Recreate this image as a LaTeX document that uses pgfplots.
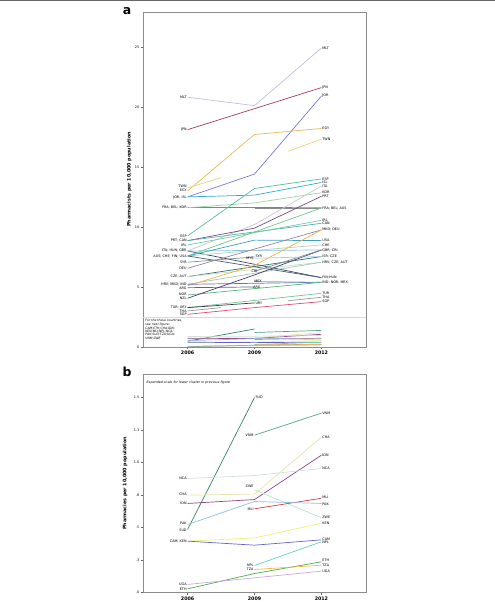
\documentclass[border=0pt]{standalone}
\usepackage{pgfplots}
\pgfplotsset{compat=1.18}
\usepackage{fontspec}
\setmainfont{DejaVu Sans}
\newcommand\lf{\fontsize{3.4}{4}\selectfont}
\definecolor{cMLT}{RGB}{200,190,215}
\definecolor{cJPN}{RGB}{165,60,90}
\definecolor{cJOR}{RGB}{120,120,220}
\definecolor{cEGY}{RGB}{230,185,90}
\definecolor{cTWN}{RGB}{235,210,120}
\definecolor{cISL}{RGB}{50,170,210}
\definecolor{cFRA}{RGB}{90,160,90}
\definecolor{cBEL}{RGB}{140,140,140}
\definecolor{cKOR}{RGB}{150,210,170}
\definecolor{cESP}{RGB}{80,190,160}
\definecolor{cITA}{RGB}{200,200,200}
\definecolor{cPRT}{RGB}{110,80,130}
\definecolor{cCAN}{RGB}{80,180,170}
\definecolor{cIRL}{RGB}{120,200,170}
\definecolor{cHUN}{RGB}{60,70,90}
\definecolor{cGBR}{RGB}{140,190,220}
\definecolor{cAUS}{RGB}{110,200,140}
\definecolor{cCHE}{RGB}{170,210,190}
\definecolor{cFIN}{RGB}{70,90,120}
\definecolor{cUSA}{RGB}{60,160,190}
\definecolor{cSYR}{RGB}{120,150,130}
\definecolor{cDEU}{RGB}{150,130,170}
\definecolor{cCZE}{RGB}{50,110,110}
\definecolor{cAUT}{RGB}{190,220,200}
\definecolor{cHRV}{RGB}{160,200,180}
\definecolor{cMKD}{RGB}{240,180,60}
\definecolor{cIND}{RGB}{110,110,190}
\definecolor{cARG}{RGB}{90,100,150}
\definecolor{cNOR}{RGB}{90,180,120}
\definecolor{cNZL}{RGB}{80,60,110}
\definecolor{cMEX}{RGB}{100,190,160}
\definecolor{cCRI}{RGB}{120,140,150}
\definecolor{cMYS}{RGB}{170,200,220}
\definecolor{cTUR}{RGB}{110,200,150}
\definecolor{cURY}{RGB}{60,60,70}
\definecolor{cTHA}{RGB}{150,150,150}
\definecolor{cSGP}{RGB}{220,80,110}
% lower cluster
\definecolor{bSUD}{RGB}{50,130,105}
\definecolor{bVNM}{RGB}{80,165,140}
\definecolor{bCHA}{RGB}{232,228,170}
\definecolor{bIDN}{RGB}{140,70,140}
\definecolor{bNCA}{RGB}{210,225,215}
\definecolor{bZWE}{RGB}{180,230,200}
\definecolor{bMLI}{RGB}{220,60,60}
\definecolor{bPAK}{RGB}{150,190,225}
\definecolor{bKEN}{RGB}{240,240,120}
\definecolor{bCAM}{RGB}{100,100,200}
\definecolor{bNPL}{RGB}{100,210,190}
\definecolor{bETH}{RGB}{80,170,80}
\definecolor{bTZA}{RGB}{240,180,80}
\definecolor{bUGA}{RGB}{200,170,225}
\newcommand\lowercluster{%
\addplot[bSUD] coordinates {(2006,0.485) (2009,1.5)};
\addplot[bVNM] coordinates {(2009,1.21) (2012,1.38)};
\addplot[bCHA] coordinates {(2006,0.749) (2009,0.757) (2012,1.195)};
\addplot[bIDN] coordinates {(2006,0.685) (2009,0.715) (2012,1.056)};
\addplot[bNCA] coordinates {(2006,0.877) (2009,0.90) (2012,0.954)};
\addplot[bZWE] coordinates {(2009,0.79) (2012,0.575)};
\addplot[bMLI] coordinates {(2009,0.644) (2012,0.725)};
\addplot[bPAK] coordinates {(2006,0.523) (2009,0.70) (2012,0.685)};
\addplot[bKEN] coordinates {(2006,0.395) (2009,0.42) (2012,0.533)};
\addplot[bCAM] coordinates {(2006,0.395) (2009,0.364) (2012,0.405)};
\addplot[bNPL] coordinates {(2009,0.208) (2012,0.39)};
\addplot[bETH] coordinates {(2006,0.028) (2009,0.146) (2012,0.236)};
\addplot[bTZA] coordinates {(2009,0.177) (2012,0.21)};
\addplot[bUGA] coordinates {(2006,0.062) (2012,0.164)};
}
\newcommand\La[3]{\node[anchor=east,inner sep=0.8bp,font=\lf] at (axis cs:#1,#2) {#3};}
\newcommand\Ra[3]{\node[anchor=west,inner sep=0.8bp,font=\lf] at (axis cs:#1,#2) {#3};}
\newcommand\Ca[3]{\node[anchor=center,inner sep=0.8bp,font=\lf] at (axis cs:#1,#2) {#3};}
\pgfplotsset{panel/.style={
  scale only axis, width=223bp, xmin=2004, xmax=2014,
  xtick={2006,2009,2012}, xticklabels={2006,2009,2012},
  axis line style={black!45, line width=0.5bp},
  tick style={black!60, line width=0.4bp}, major tick length=2.5bp,
  tick align=outside, xtick pos=bottom, ytick pos=left,
  yticklabel style={font=\lf, inner sep=1bp},
  xticklabel style={font=\fontsize{4.8}{5}\selectfont\bfseries, inner sep=1.5bp},
  /pgf/number format/assume math mode=true,
  ylabel style={font=\fontsize{4.8}{5}\selectfont\bfseries},
  every axis plot/.append style={line width=0.7bp, mark=none},
  clip=false}}
\begin{document}
\begin{tikzpicture}[x=1bp,y=1bp]
\path (0,0) rectangle (495,604);
\fill[black!60] (0,602.8) rectangle (495,604);
\node[font=\fontsize{12.5}{12}\selectfont\bfseries] at (127,593) {a};
\node[font=\fontsize{12.5}{12}\selectfont\bfseries] at (127,232) {b};
% ---------------- panel a
\begin{axis}[panel, at={(143bp,257bp)}, anchor=south west, height=335bp,
  ymin=0, ymax=27.9, ytick={0,5,10,15,20,25},
  ylabel={Pharmacists per 10,000 population},
  ylabel style={at={(axis description cs:-0.061,0.5)}, anchor=center}]
\addplot[black!15, line width=0.5bp] coordinates {(2004,2.45) (2014,2.45)};
\addplot[cMLT] coordinates {(2006,20.8) (2009,20.1) (2012,24.9)};
\addplot[cJPN] coordinates {(2006,18.1) (2012,21.6)};
\addplot[cJOR] coordinates {(2006,12.5) (2009,14.4) (2012,20.9)};
\addplot[cEGY] coordinates {(2006,13.0) (2009,17.7) (2012,18.2)};
\addplot[cTWN] coordinates {(2006,13.25) (2007.5,14.1)};
\addplot[cTWN] coordinates {(2010.5,16.3) (2012,17.3)};
\addplot[cISL] coordinates {(2006,12.5) (2009,12.65) (2012,13.7)};
\addplot[cFRA] coordinates {(2006,11.62) (2009,11.62) (2012,11.6)};
\addplot[cBEL] coordinates {(2009,11.58) (2012,11.58)};
\addplot[cKOR] coordinates {(2006,11.6) (2009,12.0) (2012,12.85)};
\addplot[cESP] coordinates {(2006,9.25) (2009,13.2) (2012,14.0)};
\addplot[cITA] coordinates {(2006,8.0) (2009,10.2) (2012,13.4)};
\addplot[cPRT] coordinates {(2006,8.86) (2009,9.9) (2012,12.55)};
\addplot[cCAN] coordinates {(2006,8.86) (2012,10.3)};
\addplot[cIRL] coordinates {(2006,8.5) (2012,10.55)};
\addplot[cHUN] coordinates {(2006,8.0) (2012,5.78)};
\addplot[cGBR] coordinates {(2006,8.0) (2012,8.08)};
\addplot[cAUS] coordinates {(2006,7.58) (2012,11.58)};
\addplot[cCHE] coordinates {(2006,7.58) (2012,8.5)};
\addplot[cFIN] coordinates {(2006,7.58) (2012,5.78)};
\addplot[cUSA] coordinates {(2006,7.58) (2009,8.9) (2012,8.86)};
\addplot[cSYR] coordinates {(2006,7.06) (2009,7.5)};
\addplot[cDEU] coordinates {(2006,6.56) (2012,9.75)};
\addplot[cCZE] coordinates {(2006,5.86) (2012,7.53)};
\addplot[cAUT] coordinates {(2006,5.86) (2012,7.06)};
\addplot[cHRV] coordinates {(2006,5.22) (2012,7.06)};
\addplot[cMKD] coordinates {(2006,5.1) (2009,6.8) (2012,9.75)};
\addplot[cIND] coordinates {(2006,5.22) (2012,5.39)};
\addplot[cARG] coordinates {(2006,4.94) (2009,5.0)};
\addplot[cNOR] coordinates {(2006,4.33) (2012,5.39)};
\addplot[cNZL] coordinates {(2006,4.06) (2009,6.0) (2012,8.08)};
\addplot[cMEX] coordinates {(2009,5.45) (2012,5.39)};
\addplot[cCRI] coordinates {(2009,6.3) (2012,8.08)};
\addplot[cMYS] coordinates {(2009,7.39) (2012,7.53)};
\addplot[cTUR] coordinates {(2006,3.28) (2012,4.47)};
\addplot[cURY] coordinates {(2006,3.28) (2009,3.67)};
\addplot[cTHA] coordinates {(2006,3.0) (2007.5,3.28)};
\addplot[cTHA] coordinates {(2010.5,3.85) (2012,4.14)};
\addplot[cSGP] coordinates {(2006,2.72) (2009,3.28) (2012,3.78)};
\lowercluster
% labels 2006
\La{2006}{20.8}{MLT}
\La{2006}{18.1}{JPN}
\La{2006}{13.4}{TWN}
\La{2006}{13.05}{EGY}
\La{2006}{12.47}{JOR; ISL}
\La{2006}{11.6}{FRA; BEL; KOR}
\La{2006}{9.25}{ESP}
\La{2006}{8.86}{PRT; CAN}
\La{2006}{8.5}{IRL}
\La{2006}{8.0}{ITA; HUN; GBR}
\La{2006}{7.58}{AUS; CHE; FIN; USA}
\La{2006}{7.06}{SYR}
\La{2006}{6.56}{DEU}
\La{2006}{5.86}{CZE; AUT}
\La{2006}{5.22}{HRV; MKD; IND}
\La{2006}{4.9}{ARG}
\La{2006}{4.38}{NOR}
\La{2006}{4.02}{NZL}
\La{2006}{3.28}{TUR; URY}
\La{2006}{3.0}{THA}
\La{2006}{2.7}{SGP}
% labels 2009
\Ra{2009}{7.55}{SYR}
\La{2009}{7.39}{MYS}
\Ca{2009}{6.3}{CRI}
\Ra{2008.95}{5.45}{MEX}
\Ra{2008.9}{5.0}{ARG}
\Ra{2009}{3.67}{URY}
% labels 2012
\Ra{2012}{24.9}{MLT}
\Ra{2012}{21.6}{JPN}
\Ra{2012}{20.9}{JOR}
\Ra{2012}{18.2}{EGY}
\Ra{2012}{17.3}{TWN}
\Ra{2012}{14.0}{ESP}
\Ra{2012}{13.7}{ISL}
\Ra{2012}{13.4}{ITA}
\Ra{2012}{12.86}{KOR}
\Ra{2012}{12.55}{PRT}
\Ra{2012}{11.58}{FRA; BEL; AUS}
\Ra{2012}{10.56}{IRL}
\Ra{2012}{10.3}{CAN}
\Ra{2012}{9.75}{MKD; DEU}
\Ra{2012}{8.86}{USA}
\Ra{2012}{8.5}{CHE}
\Ra{2012}{8.08}{GBR; CRI}
\Ra{2012}{7.53}{ISR; CZE}
\Ra{2012}{7.06}{HRV; CZE; AUT}
\Ra{2012}{5.78}{FIN;HUN}
\Ra{2012}{5.39}{IND; NOR; MEX}
\Ra{2012}{4.47}{TUR}
\Ra{2012}{4.14}{THA}
\Ra{2012}{3.78}{SGP}
\node[anchor=north west, align=left, inner sep=0pt, font=\fontsize{3.1}{3.4}\selectfont\itshape] at (axis cs:2004.1,2.3)
 {For the these countries,\\see next figure:\\[0.5bp]CAM;ETH;CHA;IDN;\\KEN;MLI;NPL;NCA;\\PAK;SUD;TZA;UGA;\\VNM;ZWE};
\end{axis}
% ---------------- panel b
\begin{axis}[panel, at={(143bp,11.5bp)}, anchor=south west, height=218bp,
  ymin=0, ymax=1.677, ytick={0,0.25,0.5,0.75,1,1.25,1.5},
  yticklabels={.0,.3,.5,.8,1.0,1.3,1.5},
  ylabel={Pharmacies per 10,000 population},
  ylabel style={at={(axis description cs:-0.08,0.5)}, anchor=center}]
\lowercluster
\node[anchor=west, inner sep=0pt, font=\fontsize{3.3}{4}\selectfont\itshape] at (axis cs:2004.15,1.615) {Expanded scale for lower cluster in previous figure};
% 2006
\La{2006}{0.877}{NCA}
\La{2006}{0.752}{CHA}
\La{2006}{0.685}{IDN}
\La{2006}{0.53}{PAK}
\La{2006}{0.48}{SUD}
\La{2006}{0.395}{CAM; KEN}
\La{2006}{0.065}{UGA}
\La{2006}{0.026}{ETH}
% 2009
\Ra{2009}{1.5}{SUD}
\La{2009}{1.21}{VNM}
\La{2009}{0.815}{ZWE}
\La{2009}{0.644}{MLI}
\La{2009}{0.21}{NPL}
\La{2009}{0.177}{TZA}
% 2012
\Ra{2012}{1.38}{VNM}
\Ra{2012}{1.195}{CHA}
\Ra{2012}{1.056}{IDN}
\Ra{2012}{0.954}{NCA}
\Ra{2012}{0.735}{MLI}
\Ra{2012}{0.68}{PAK}
\Ra{2012}{0.58}{ZWE}
\Ra{2012}{0.533}{KEN}
\Ra{2012}{0.41}{CAM}
\Ra{2012}{0.385}{NPL}
\Ra{2012}{0.245}{ETH}
\Ra{2012}{0.212}{TZA}
\Ra{2012}{0.165}{UGA}
\end{axis}
\end{tikzpicture}
\end{document}
